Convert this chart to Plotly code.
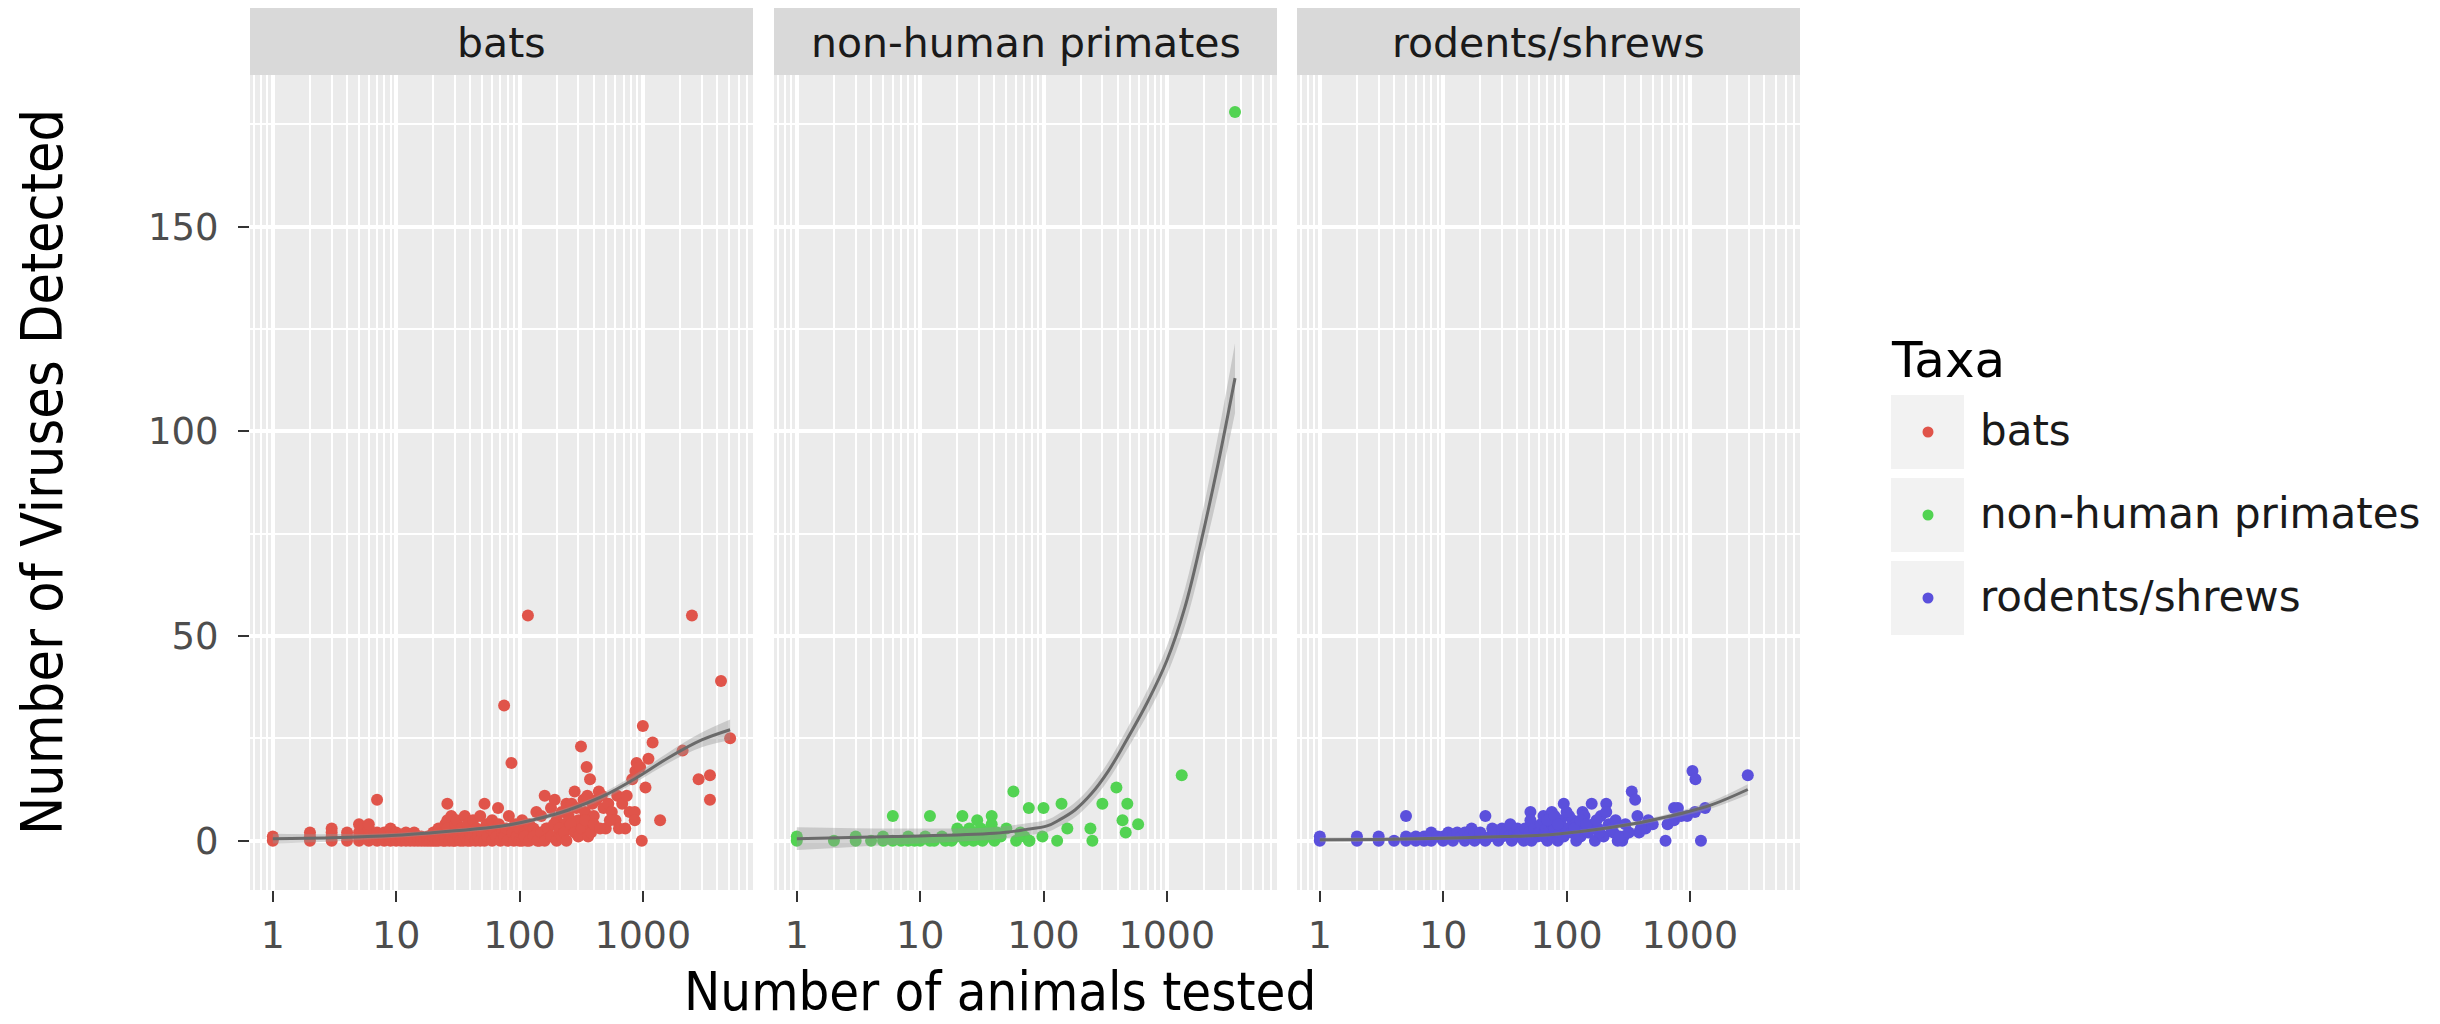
import plotly.graph_objects as go

W, H = 2440, 1024
FONT = "DejaVu Sans"
TITLE_FONT = "Liberation Sans Narrow, DejaVu Sans Condensed, Liberation Sans, sans-serif"

# ---------------- data ----------------
taxa = ["bats", "non-human primates", "rodents/shrews"]
taxa_colors = ["#E0544A", "#52D352", "#5B50DC"]

bats_tested = [1,1,2,2,2,3,3,3,3,4,4,4,5,5,5,5,6,6,6,6,7,7,7,7,8,8,8,9,9,9,
               10,10,10,11,11,12,12,12,13,13,14,14,15,15,16,16,17,18,18,19,20,20,20,21,22,22,23,24,24,25,25,25,
               26,26,26,27,28,28,29,30,30,30,31,32,33,34,35,35,36,37,38,38,40,40,42,42,44,45,46,48,48,50,52,52,
               54,55,58,60,60,62,65,67,68,70,72,75,75,78,80,82,86,88,90,92,95,100,100,105,110,115,117,120,125,130,
               137,140,145,150,160,165,170,180,193,200,210,220,230,240,250,265,270,280,290,300,315,330,340,350,355,
               360,373,390,400,420,440,465,480,500,525,560,600,620,640,680,720,740,780,820,860,860,870,890,950,980,
               1000,1050,1110,1200,1380,2100,2500,2830,3500,3500,4300,5100,
               105,110,120,130,140,150,160,170,180,190,200,210,220,230,240,260,280,300,320,340,360,380,400,450,540]
bats_viruses = [0,1,0,1,2,0,1,2,3,0,1,2,0,1,2,4,0,1,3,4,0,1,2,10,0,1,2,0,1,3,
                0,1,2,0,1,0,1,2,0,1,0,2,0,1,0,1,0,0,1,0,0,1,2,0,0,3,1,0,2,0,1,4,
                9,5,3,0,1,6,0,0,2,4,5,1,0,3,0,2,6,1,0,4,0,2,1,5,0,3,1,0,6,2,9,0,
                4,1,3,0,5,2,1,8,4,0,2,33,1,3,0,6,19,2,0,4,1,3,0,5,2,0,55,4,1,3,
                7,2,0,6,11,3,1,8,10,5,2,7,4,9,6,9,3,12,8,5,23,10,7,18,11,
                4,15,9,6,10,12,11,8,3,9,7,5,11,3,9,3,11,7,15,7,5,17,19,18,0,
                28,13,20,24,5,22,55,15,16,10,39,25,
                0,1,0,1,0,2,0,3,1,4,0,3,1,2,0,4,2,1,3,5,1,2,4,3,5]

prim_tested = [1,1,2,3,3,4,5,5,6,6,7,8,8,9,10,11,12,12,13,15,16,18,20,20,22,22,23,24,25,26,27,29,30,31,32,
               35,36,38,38,40,42,45,50,57,60,65,70,76,76,77,98,100,129,140,156,240,249,300,390,437,464,478,585,
               1320,3570]
prim_viruses = [0,1,0,0,1,0,0,1,0,6,0,0,1,0,0,1,6,0,0,1,0,0,1,3,6,2,0,1,3,2,0,5,1,3,0,
                2,1,6,4,0,2,1,3,12,0,2,1,8,0,0,1,8,0,9,3,3,0,9,13,5,2,9,4,
                16,178]

rod_tested = [1,1,2,2,3,3,4,5,5,5,6,6,7,7,8,8,9,10,10,11,12,12,13,14,15,15,16,17,18,18,
              20,20,22,22,24,25,26,28,30,30,32,34,35,36,38,40,40,42,45,46,48,50,51,51,52,55,58,60,62,65,
              65,68,70,72,76,76,78,80,85,88,90,95,95,100,105,110,112,118,120,125,130,135,140,150,160,165,170,180,190,200,
              210,210,220,240,260,283,290,338,360,376,388,437,460,635,660,745,745,850,1050,1100,1110,1230,1330,2950,
              70,80,85,100,115,130,145,175,185,230,250,270,300,320,400,500,800,950]
rod_viruses = [0,1,0,1,0,1,0,0,6,1,0,1,0,1,0,2,1,0,1,2,0,1,2,1,0,2,1,3,0,2,
               1,2,6,0,1,3,2,0,1,3,2,1,4,0,2,1,3,2,0,3,1,2,7,5,0,3,1,2,4,6,
               1,3,0,2,7,4,1,3,0,2,5,9,1,3,6,2,5,4,0,3,1,7,6,2,9,4,0,3,6,1,
               9,7,4,2,0,0,1,12,10,6,2,3,5,0,4,8,5,6,17,7,15,0,8,16,
               5,6,4,7,3,5,4,5,2,3,5,1,4,2,3,4,8,6]

# smoothed fits and their half-band widths
bats_fit_x = [1, 3, 10, 30, 70, 130, 250, 470, 870, 1600, 3000, 5100]
bats_fit_y = [0.5, 0.7, 1.3, 2.4, 3.5, 5.1, 7.5, 10.8, 15.2, 20.2, 24.6, 27.1]
bats_fit_se = [1.2, 0.9, 0.6, 0.5, 0.5, 0.6, 0.7, 0.8, 1.0, 1.3, 1.8, 2.5]

prim_fit_x = [1, 6, 40, 71, 107, 133, 180, 245, 335, 450, 700, 1000, 1400, 1860, 2600, 3570]
prim_fit_y = [0.5, 1.0, 1.8, 2.7, 3.6, 5.0, 7.5, 11.5, 17, 23.5, 34, 44, 57, 72, 92, 113]
prim_fit_se = [2.8, 2.0, 1.5, 1.5, 1.5, 1.6, 1.8, 2.0, 2.2, 2.5, 3.0, 3.5, 4.5, 5.5, 7.0, 8.5]

rod_fit_x = [1, 3, 10, 32, 68, 126, 234, 437, 813, 1514, 2950]
rod_fit_y = [0.2, 0.3, 0.6, 1.0, 1.4, 2.2, 3.3, 4.7, 6.5, 8.8, 12.5]
rod_fit_se = [0.6, 0.5, 0.4, 0.35, 0.35, 0.4, 0.45, 0.55, 0.7, 0.9, 1.3]

x_major = [1, 10, 100, 1000]
x_major_text = ["1", "10", "100", "1000"]
x_minor = [k * 10 ** n for n in range(-1, 4) for k in range(2, 10)]
y_major = [0, 50, 100, 150]
y_minor = [25, 75, 125, 175]

# ---------------- layout geometry (pixels) ----------------
panels_px = [(250, 753), (774, 1277), (1297, 1800)]
panel_top, panel_bot = 75, 890
strip_top = 8


def fx(p):
    return p / W


def fy(p):
    return 1 - p / H


series = [
    (bats_tested, bats_viruses, bats_fit_x, bats_fit_y, bats_fit_se),
    (prim_tested, prim_viruses, prim_fit_x, prim_fit_y, prim_fit_se),
    (rod_tested, rod_viruses, rod_fit_x, rod_fit_y, rod_fit_se),
]

fig = go.Figure()
for i, (tx, vy, fxv, fyv, fse) in enumerate(series):
    sfx = "" if i == 0 else str(i + 1)
    xa, ya = "x" + sfx, "y" + sfx
    fig.add_trace(go.Scatter(x=tx, y=vy, mode="markers",
                             marker=dict(size=12, color=taxa_colors[i], line=dict(width=0)),
                             xaxis=xa, yaxis=ya, showlegend=False, hoverinfo="skip"))
    lo = [a - b for a, b in zip(fyv, fse)]
    hi = [a + b for a, b in zip(fyv, fse)]
    fig.add_trace(go.Scatter(x=fxv, y=lo, mode="lines", line=dict(width=0, shape="spline"),
                             xaxis=xa, yaxis=ya, showlegend=False, hoverinfo="skip"))
    fig.add_trace(go.Scatter(x=fxv, y=hi, mode="lines", line=dict(width=0, shape="spline"),
                             fill="tonexty", fillcolor="rgba(150,150,150,0.4)",
                             xaxis=xa, yaxis=ya, showlegend=False, hoverinfo="skip"))
    fig.add_trace(go.Scatter(x=fxv, y=fyv, mode="lines",
                             line=dict(color="#6A6A6A", width=3, shape="spline"),
                             xaxis=xa, yaxis=ya, showlegend=False, hoverinfo="skip"))

layout = dict(
    width=W, height=H, autosize=False,
    margin=dict(l=0, r=0, t=0, b=0),
    paper_bgcolor="white", plot_bgcolor="#EBEBEB",
    template="none", showlegend=False,
    font=dict(family=FONT, color="#1A1A1A"),
)

for i, (l, r) in enumerate(panels_px):
    sfx = "" if i == 0 else str(i + 1)
    layout["xaxis" + sfx] = dict(
        type="log", range=[-0.185, 3.893], domain=[fx(l), fx(r)],
        anchor="y" + sfx,
        tickvals=x_major, ticktext=x_major_text,
        showgrid=True, gridcolor="white", gridwidth=3.5,
        minor=dict(tickvals=x_minor, showgrid=True, gridcolor="white", gridwidth=2, ticks=""),
        ticks="outside", ticklen=11, tickwidth=2, tickcolor="#333333",
        tickfont=dict(family=FONT, size=38, color="#4D4D4D"),
        ticklabelstandoff=0,
        zeroline=False, showline=False, automargin=False, fixedrange=True,
    )
    yd = dict(
        range=[-12.05, 187.05], domain=[fy(panel_bot), fy(panel_top)],
        anchor="x" + sfx,
        tickvals=y_major, ticktext=[str(v) for v in y_major],
        showgrid=True, gridcolor="white", gridwidth=3.5,
        minor=dict(tickvals=y_minor, showgrid=True, gridcolor="white", gridwidth=2, ticks=""),
        zeroline=False, showline=False, automargin=False, fixedrange=True,
    )
    if i == 0:
        yd.update(ticks="outside", ticklen=11, tickwidth=2, tickcolor="#333333",
                  tickfont=dict(family=FONT, size=37, color="#4D4D4D"), ticklabelstandoff=12)
    else:
        yd.update(ticks="", showticklabels=False, matches="y")
    layout["yaxis" + sfx] = yd

fig.update_layout(**layout)

shapes = []
annotations = []
# facet strips
for (l, r), name in zip(panels_px, taxa):
    shapes.append(dict(type="rect", xref="paper", yref="paper",
                       x0=fx(l), x1=fx(r), y0=fy(panel_top), y1=fy(strip_top),
                       fillcolor="#D9D9D9", line=dict(width=0), layer="below"))
    annotations.append(dict(text=name, xref="paper", yref="paper",
                            x=fx((l + r) / 2), y=fy((panel_top + strip_top) / 2 + 1),
                            xanchor="center", yanchor="middle", showarrow=False,
                            font=dict(family=FONT, size=41, color="#1A1A1A")))

# axis titles
annotations.append(dict(text="Number of animals tested", xref="paper", yref="paper",
                        x=fx(1000), y=fy(1024), xanchor="center", yanchor="bottom", showarrow=False,
                        borderpad=0,
                        font=dict(family=TITLE_FONT, size=54, color="#000000")))
annotations.append(dict(text="Number of Viruses Detected", xref="paper", yref="paper",
                        x=fx(42), y=fy(472), xanchor="center", yanchor="middle", showarrow=False,
                        textangle=-90,
                        font=dict(family=TITLE_FONT, size=57, color="#000000")))

# manual legend (ggplot style)
annotations.append(dict(text="Taxa", xref="paper", yref="paper",
                        x=fx(1889), y=fy(360), xanchor="left", yanchor="middle", showarrow=False,
                        font=dict(family=FONT, size=50, color="#000000")))
key_centers = [432, 515, 598]
for c, name, col in zip(key_centers, taxa, taxa_colors):
    shapes.append(dict(type="rect", xref="paper", yref="paper",
                       x0=fx(1891), x1=fx(1964), y0=fy(c + 37), y1=fy(c - 37),
                       fillcolor="#F2F2F2", line=dict(width=0)))
    shapes.append(dict(type="circle", xref="paper", yref="paper",
                       xsizemode="pixel", ysizemode="pixel",
                       xanchor=fx(1928), yanchor=fy(c),
                       x0=-5.5, x1=5.5, y0=-5.5, y1=5.5,
                       fillcolor=col, line=dict(width=0)))
    annotations.append(dict(text=name, xref="paper", yref="paper",
                            x=fx(1978), y=fy(c - 2), xanchor="left", yanchor="middle", showarrow=False,
                            font=dict(family=FONT, size=42, color="#1A1A1A")))

fig.update_layout(shapes=shapes, annotations=annotations)
fig.write_html("out.html")
